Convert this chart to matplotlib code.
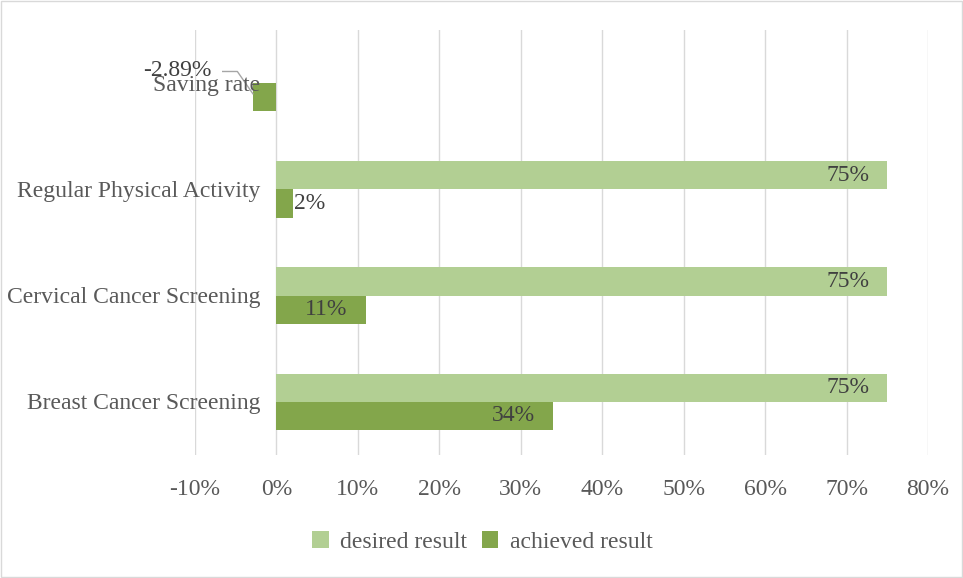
import matplotlib.pyplot as plt
import matplotlib.transforms as mtransforms
import numpy as np

plt.rcParams['font.family'] = ['Liberation Serif', 'DejaVu Serif']

categories = ["Breast Cancer Screening", "Cervical Cancer Screening",
              "Regular Physical Activity", "Saving rate"]
desired = [75, 75, 75, np.nan]
achieved = [34, 11, 2, -2.89]
xticks = list(range(-10, 81, 10))

c_desired = "#B2CF93"
c_achieved = "#83A64B"
txt = "#595959"
lbl = "#404040"
fs = 17

fig = plt.figure(figsize=(9.63, 5.78), dpi=100)
ax = fig.add_axes([0.2025, 0.2128, 0.7612, 0.7352])

y = np.arange(len(categories))
h = 0.265
ax.barh(y + h / 2, desired, height=h, color=c_desired, label="desired result")
ax.barh(y - h / 2, achieved, height=h, color=c_achieved, label="achieved result")

ax.set_xlim(-10, 80)
ax.set_ylim(-0.5, 3.5)
ax.set_xticks(xticks)
ax.set_xticklabels([f"{t}%" for t in xticks], fontsize=fs, color=txt)
ax.set_yticks([])
ax.tick_params(length=0)
ax.tick_params(axis='x', pad=17)
ax.grid(axis='x', color="#D9D9D9", linewidth=1)
ax.set_axisbelow(True)
for s in ax.spines.values():
    s.set_visible(False)

# category labels sit left of the 0% axis
off = mtransforms.offset_copy(ax.transData, fig=fig, x=-16, y=-2, units='dots')
for i, c in enumerate(categories):
    ax.text(0, y[i], c, ha='right', va='center', fontsize=fs, color=txt, transform=off)

# data labels
for i, v in enumerate(desired):
    if not np.isnan(v):
        ax.text(v - 2.2, y[i] + h / 2, f"{v:.0f}%", ha='right', va='center', fontsize=fs, color=lbl)
ax.text(achieved[0] - 2.2, y[0] - h / 2, f"{achieved[0]:.0f}%", ha='right', va='center', fontsize=fs, color=lbl)
ax.text(achieved[1] / 2 + 0.6, y[1] - h / 2, f"{achieved[1]:.0f}%", ha='center', va='center', fontsize=fs, color=lbl)
ax.text(achieved[2] + 0.2, y[2] - h / 2, f"{achieved[2]:.0f}%", ha='left', va='center', fontsize=fs, color=lbl)

# saving rate label with leader line
ax.text(-12.2, 3.12, f"{achieved[3]:.2f}%", ha='center', va='center', fontsize=fs, color=lbl, clip_on=False)
ax.plot([-6.6, -4.8, achieved[3]], [3.11, 3.11, 2.9], color="#A6A6A6", lw=1, clip_on=False)

ax.legend(loc='center', bbox_to_anchor=(0.392, -0.205), ncol=2, frameon=False,
          fontsize=fs, labelcolor=txt, handlelength=0.7, handleheight=0.7,
          handletextpad=0.5, columnspacing=0.6)

fig.patches.append(plt.Rectangle((0.001, 0.001), 0.998, 0.998, transform=fig.transFigure,
                                 fill=False, edgecolor="#D9D9D9", linewidth=1))

fig.savefig("out.png", dpi=100)
